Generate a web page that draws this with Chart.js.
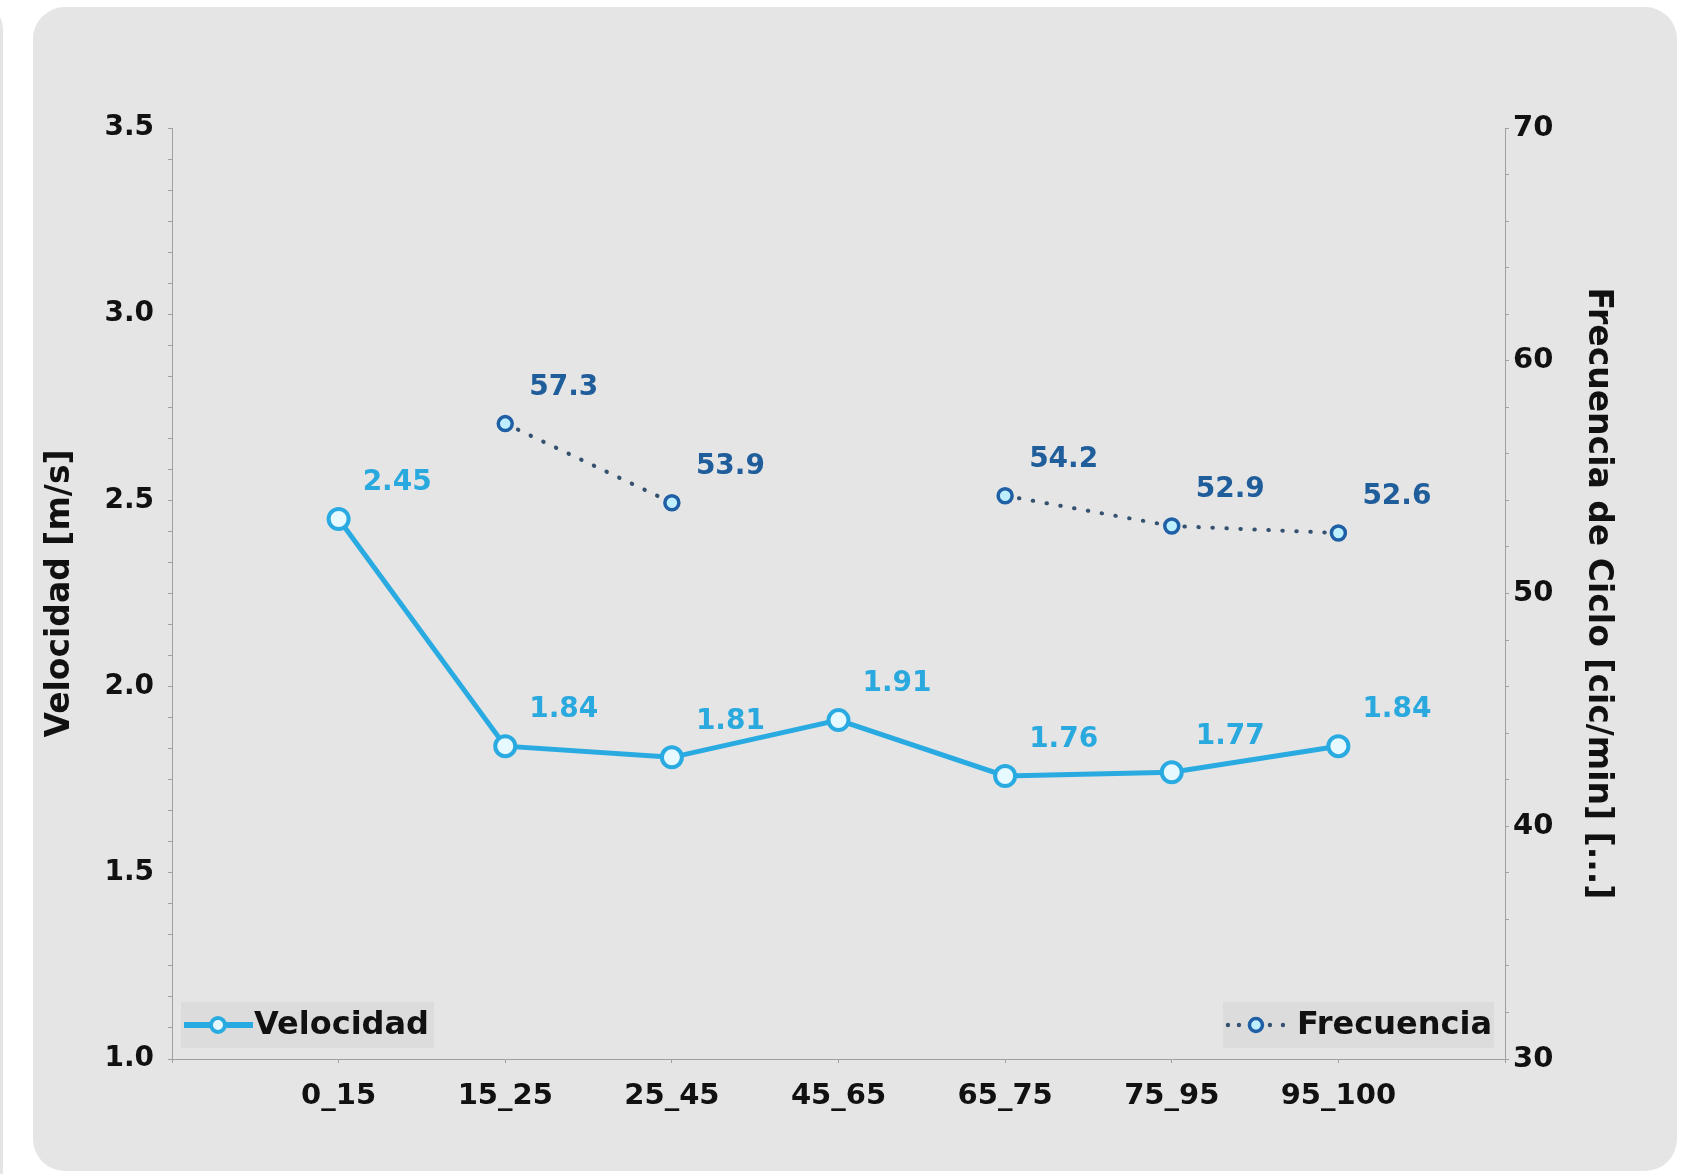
<!DOCTYPE html>
<html>
<head>
<meta charset="utf-8">
<script src="https://cdn.jsdelivr.net/npm/chart.js@4.4.0/dist/chart.umd.min.js"></script>
<style>
  html, body { margin:0; padding:0; background:#fff; width:1689px; height:1174px; overflow:hidden; }
  .strip { position:absolute; left:-40px; top:7px; width:43px; height:1200px; background:#e5e5e5; border-radius:30px; }
  .panel { position:absolute; left:33px; top:7px; width:1644px; height:1164px; background:#e5e5e5; border-radius:32px; }
  #wrap { position:absolute; left:0; top:0; width:1689px; height:1174px; }
</style>
</head>
<body>
<div class="strip"></div>
<div class="panel"></div>
<div id="wrap"><canvas id="velChart"></canvas></div>
<script>
(function(){
    const categories = ['0_15','15_25','25_45','45_65','65_75','75_95','95_100'];
    const velocidad  = [2.45, 1.84, 1.81, 1.91, 1.76, 1.77, 1.84];
    const frecuencia = [null, 57.3, 53.9, null, 54.2, 52.9, 52.6];
    const velTicks = [1.0, 1.5, 2.0, 2.5, 3.0, 3.5];
    const freqTicks = [30, 40, 50, 60, 70];

    const velColor = '#29abe2';
    const freqColor = '#1f5fa5';
    const freqLine = '#34526f';
    const labelColors = ['#2aa9df', '#1f5d9b'];
    const axisColor = '#a0a0a0';
    const FONT = '"DejaVu Sans"';

    Chart.defaults.font.family = FONT;
    Chart.defaults.color = '#111';

    // value labels above-right of each point
    const valueLabels = {
        id: 'valueLabels',
        afterDatasetsDraw(chart){
            const ctx = chart.ctx;
            chart.data.datasets.forEach((ds, di) => {
                const meta = chart.getDatasetMeta(di);
                meta.data.forEach((pt, i) => {
                    const v = ds.data[i].y;
                    if (v == null) return;
                    ctx.save();
                    ctx.font = 'bold 28px ' + FONT;
                    ctx.fillStyle = labelColors[di];
                    ctx.textAlign = 'left';
                    ctx.textBaseline = 'middle';
                    ctx.fillText(di === 0 ? v.toFixed(2) : v.toFixed(1), pt.x + 24, pt.y - 36);
                    ctx.restore();
                });
            });
        }
    };

    // legends sitting inside the plot, bottom-left and bottom-right
    const cornerLegend = {
        id: 'cornerLegend',
        afterDraw(chart){
            const ctx = chart.ctx;
            const a = chart.chartArea;
            const h = 46, bottom = a.bottom - 11, midY = bottom - h/2;
            ctx.save();
            ctx.font = 'bold 32px ' + FONT;
            ctx.textBaseline = 'middle';

            // Velocidad
            let x0 = a.left + 9;
            let tw = ctx.measureText('Velocidad').width;
            ctx.fillStyle = '#dcdcdc';
            ctx.fillRect(x0, bottom - h, 74 + tw + 4, h);
            ctx.strokeStyle = velColor; ctx.lineWidth = 6;
            ctx.beginPath(); ctx.moveTo(x0 + 3, midY); ctx.lineTo(x0 + 72, midY); ctx.stroke();
            ctx.beginPath(); ctx.arc(x0 + 37, midY, 7, 0, Math.PI*2);
            ctx.fillStyle = '#e6f9ff'; ctx.fill(); ctx.lineWidth = 4; ctx.stroke();
            ctx.fillStyle = '#111'; ctx.textAlign = 'left';
            ctx.fillText('Velocidad', x0 + 73, midY + 1);

            // Frecuencia
            tw = ctx.measureText('Frecuencia').width;
            const x1 = a.right - 11;
            const bx = x1 - tw - 76;
            ctx.fillStyle = '#dcdcdc';
            ctx.fillRect(bx, bottom - h, x1 - bx, h);
            ctx.fillStyle = freqLine;
            [bx + 5, bx + 16, bx + 47, bx + 60].forEach(dx => { ctx.beginPath(); ctx.arc(dx, midY, 2.2, 0, Math.PI*2); ctx.fill(); });
            ctx.beginPath(); ctx.arc(bx + 33, midY, 6.5, 0, Math.PI*2);
            ctx.fillStyle = '#bdefff'; ctx.fill();
            ctx.strokeStyle = freqColor; ctx.lineWidth = 3.5; ctx.stroke();
            ctx.fillStyle = '#111'; ctx.textAlign = 'right';
            ctx.fillText('Frecuencia', x1 - 2, midY + 1);
            ctx.restore();
        }
    };

    const isMajor = (v, list) => list.some(t => Math.abs(t - v) < 1e-6);

    new Chart(document.getElementById('velChart').getContext('2d'), {
        type: 'line',
        data: {
            datasets: [{
                label: 'Velocidad',
                data: velocidad.map((v, i) => ({x: i + 1, y: v})),
                yAxisID: 'y',
                borderColor: velColor,
                borderWidth: 5,
                pointRadius: 10,
                pointBorderWidth: 4,
                pointBorderColor: velColor,
                pointBackgroundColor: '#e6f9ff',
                tension: 0
            }, {
                label: 'Frecuencia',
                data: frecuencia.map((v, i) => ({x: i + 1, y: v})),
                yAxisID: 'y2',
                borderColor: freqLine,
                borderWidth: 4,
                borderDash: [0.5, 13.5],
                borderCapStyle: 'round',
                pointRadius: 7,
                pointBorderWidth: 3.5,
                pointBorderColor: freqColor,
                pointBackgroundColor: '#bdefff',
                spanGaps: false,
                tension: 0
            }]
        },
        options: {
            responsive: true,
            maintainAspectRatio: false,
            animation: false,
            layout: { padding: { top: 128, left: 0, right: 0, bottom: 0 } },
            plugins: { legend: { display: false }, tooltip: { enabled: false } },
            scales: {
                x: {
                    type: 'linear',
                    position: 'bottom',
                    min: 0, max: 8,
                    ticks: {
                        stepSize: 1, autoSkip: false, maxRotation: 0, padding: 16,
                        font: { size: 29, weight: 'bold' }, color: '#111',
                        callback: v => categories[v - 1] || ''
                    },
                    grid: { drawOnChartArea: false, drawTicks: true, tickLength: 4, color: axisColor },
                    border: { color: axisColor, width: 1 },
                    afterFit: s => { s.height = 115; }
                },
                y: {
                    position: 'left',
                    min: 1, max: 3.5,
                    ticks: {
                        stepSize: 0.5 / 6, autoSkip: false, padding: 14,
                        font: { size: 28, weight: 'bold' }, color: '#111',
                        callback: v => isMajor(v, velTicks) ? v.toFixed(1) : ''
                    },
                    grid: { drawOnChartArea: false, drawTicks: true, tickLength: 4, color: axisColor },
                    border: { color: axisColor, width: 1 },
                    title: { display: true, text: 'Velocidad [m/s]', font: { size: 33, weight: 'bold' }, color: '#111', padding: { top: 41, bottom: 0 } },
                    afterFit: s => { s.width = 172; }
                },
                y2: {
                    position: 'right',
                    min: 30, max: 70,
                    ticks: {
                        stepSize: 2, autoSkip: false, padding: 4,
                        font: { size: 29, weight: 'bold' }, color: '#111',
                        callback: v => isMajor(v, freqTicks) ? String(v) : ''
                    },
                    grid: { drawOnChartArea: false, drawTicks: true, tickLength: 4, color: axisColor },
                    border: { color: axisColor, width: 1 },
                    title: { display: true, text: 'Frecuencia de Ciclo [cic/min] [...]', font: { size: 33, weight: 'bold' }, color: '#111', padding: { top: 72, bottom: 0 } },
                    afterFit: s => { s.width = 184; }
                }
            }
        },
        plugins: [valueLabels, cornerLegend]
    });
})();
</script>
</body>
</html>
